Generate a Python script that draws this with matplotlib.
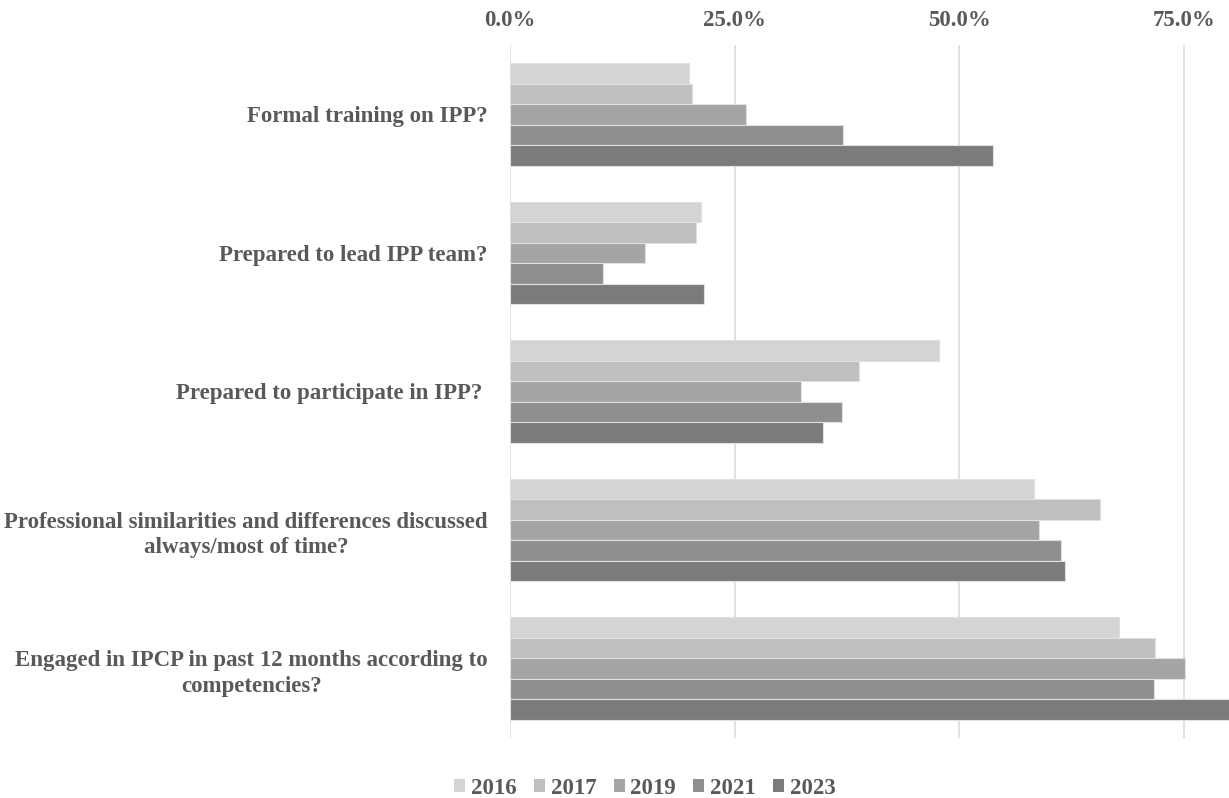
import numpy as np
import matplotlib
matplotlib.use("Agg")
import matplotlib.pyplot as plt
from matplotlib.ticker import FuncFormatter

# Survey questions (top to bottom)
questions = [
    "Formal training on IPP?",
    "Prepared to lead IPP team?",
    "Prepared to participate in IPP? ",
    "Professional similarities and differences discussed\nalways/most of time?",
    "Engaged in IPCP in past 12 months according to\ncompetencies?",
]
years = ["2016", "2017", "2019", "2021", "2023"]

# percent of respondents, one list per year
pct_2016 = [19.9, 21.3, 47.7, 58.3, 67.8]
pct_2017 = [20.2, 20.7, 38.8, 65.6, 71.8]
pct_2019 = [26.3, 15.0, 32.4, 58.9, 75.1]
pct_2021 = [37.0, 10.3, 36.9, 61.3, 71.7]
pct_2023 = [53.7, 21.6, 34.8, 61.8, 81.0]
series = [pct_2016, pct_2017, pct_2019, pct_2021, pct_2023]

colors = ["#d4d4d4", "#bfbfbf", "#a5a5a5", "#8f8f8f", "#7b7b7b"]
text_color = "#595959"
font = "Liberation Serif"
fs = 16.5

fig = plt.figure(figsize=(12.29, 7.98), dpi=100)
ax = fig.add_axes([510 / 1229, 60 / 798, 719 / 1229, 693 / 798])

y = np.arange(len(questions))
h = 0.148
for i, (yr, vals) in enumerate(zip(years, series)):
    ax.barh(y + (i - 2) * h, vals, height=h, color=colors[i],
            edgecolor="#e0e0e0", linewidth=0.8, label=yr, zorder=2)

ax.set_xlim(0, 80)
ax.set_ylim(len(questions) - 0.5, -0.5)
ax.set_xticks([0, 25, 50, 75])
ax.xaxis.set_major_formatter(FuncFormatter(lambda v, p: f"{v:.1f}%"))
ax.xaxis.tick_top()
ax.grid(axis="x", color="#d9d9d9", linewidth=1.1, zorder=0)
ax.set_axisbelow(True)
for s in ax.spines.values():
    s.set_visible(False)

ax.set_yticks(y)
ax.set_yticklabels(questions)
ax.tick_params(axis="both", length=0)
ax.tick_params(axis="y", pad=16)
ax.tick_params(axis="x", pad=10)
for lab in ax.get_yticklabels():
    lab.set_fontfamily(font)
    lab.set_fontweight("bold")
    lab.set_fontsize(fs)
    lab.set_color(text_color)
    lab.set_multialignment("center")
    lab.set_linespacing(1.3)
for lab in ax.get_xticklabels():
    lab.set_fontfamily(font)
    lab.set_fontweight("bold")
    lab.set_fontsize(fs)
    lab.set_color(text_color)

leg = fig.legend(loc="center", bbox_to_anchor=(645 / 1229, 10 / 798), ncol=5,
                 frameon=False, handlelength=0.48, handleheight=0.48,
                 handletextpad=0.26, columnspacing=0.75,
                 prop={"family": font, "weight": "bold", "size": fs})
for t in leg.get_texts():
    t.set_color(text_color)
for p in leg.get_patches():
    p.set_linewidth(0)

fig.savefig("out.png", dpi=100)
